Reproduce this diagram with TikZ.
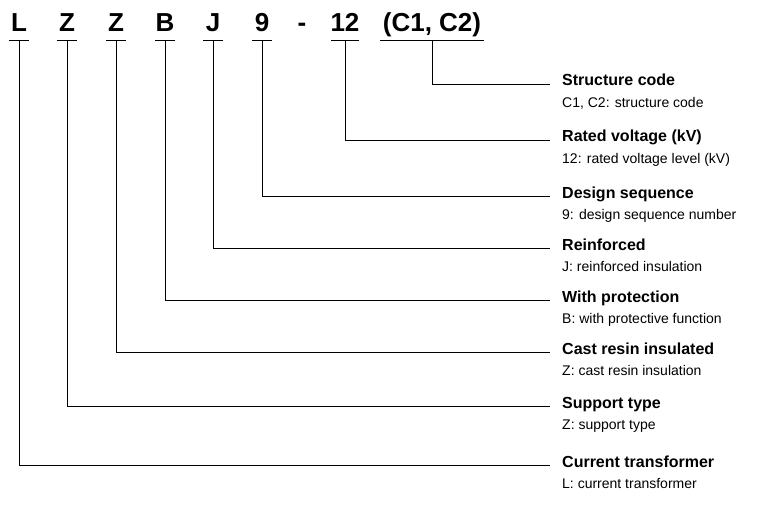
\documentclass[tikz,border=0pt]{standalone}
\usepackage{fontspec}
\setmainfont{Liberation Sans}
\usetikzlibrary{positioning}
\begin{document}
\begin{tikzpicture}[x=1pt, y=-1pt,
  c/.style={anchor=base, font=\fontsize{26}{28}\selectfont\bfseries, inner sep=0pt},
  t/.style={anchor=base west, inner sep=0pt, font=\fontsize{16}{18}\selectfont\bfseries},
  s/.style={anchor=base west, inner sep=0pt, font=\fontsize{14}{16}\selectfont},
  u/.style={line width=0.8pt}, l/.style={line width=0.8pt}]
\useasboundingbox (0,0) rectangle (764,511);
% code letters
\foreach \n/\x/\txt in {a/19/L, b/67/Z, c/116/Z, d/165/B, e/213/J, f/262/9, g/302/-, h/345/12, i/432/{(C1, C2)}}
  \node[c] (\n) at (\x,32) {\txt};
% underlines
\foreach \n/\x/\w in {a/19/10, b/67/10, c/116/10, d/165/10, e/213/10, f/262/10, h/345/14, i/432/52}
  {\coordinate (u\n) at (\x,40);
   \draw[u] ([xshift=-\w pt]u\n) -- ([xshift=\w pt]u\n);}
% labels
\foreach \n/\y/\ti/\su in {
  i/84/Structure code/{C1, C2: structure code},
  h/140/Rated voltage (kV)/{12: rated voltage level (kV)},
  f/196/Design sequence/{9: design sequence number},
  e/248/Reinforced/{J: reinforced insulation},
  d/300/With protection/{B: with protective function},
  c/352/Cast resin insulated/{Z: cast resin insulation},
  b/406/Support type/{Z: support type},
  a/465/Current transformer/{L: current transformer}}
  {\coordinate (k\n) at (550,\y);
   \node[t] (t\n) at (562,\y+2) {\ti};
   \node[s] (s\n) at (562,\y+23) {\su};
   \draw[l] (u\n) |- (k\n);}
\end{tikzpicture}
\end{document}
